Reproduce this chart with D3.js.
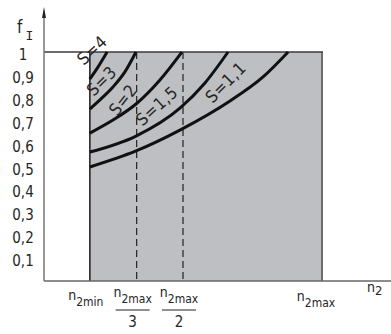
<!DOCTYPE html>
<html>
<head>
<meta charset="utf-8" />
<script src="https://d3js.org/d3.v7.min.js"></script>
<style>
  body { margin: 0; background: #fff; }
  text {
    font-family: "DejaVu Sans Condensed", "Liberation Sans Narrow", "DejaVu Sans", sans-serif;
    fill: #262626;
  }
  .curve { fill: none; stroke: #111; stroke-width: 3px; }
  .dash { stroke: #222; stroke-width: 1.2px; stroke-dasharray: 7 4; }
</style>
</head>
<body>
<svg id="chart" width="391" height="334"></svg>
<script>
// values (n2 as a share of n2max, f_I)
var yTicks = [0.1, 0.2, 0.3, 0.4, 0.5, 0.6, 0.7, 0.8, 0.9, 1];
var yTickLabels = ["0,1", "0,2", "0,3", "0,4", "0,5", "0,6", "0,7", "0,8", "0,9", "1"];
var n2min = 0.165;
var dashedAt = [1 / 3, 1 / 2];
var sLabels = ["S=4", "S=3", "S=2", "S=1,5", "S=1,1"];
var curveS4 = [[0.165, 0.882], [0.194, 0.934], [0.227, 1.0]];
var curveS3 = [[0.165, 0.751], [0.205, 0.795], [0.248, 0.847], [0.291, 0.913], [0.331, 1.0]];
var curveS2 = [[0.165, 0.646], [0.248, 0.703], [0.331, 0.773], [0.417, 0.878], [0.496, 1.0]];
var curveS15 = [[0.165, 0.563], [0.331, 0.633], [0.489, 0.755], [0.579, 0.865], [0.662, 1.0]];
var curveS11 = [[0.165, 0.498], [0.331, 0.568], [0.489, 0.659], [0.669, 0.786], [0.788, 0.891], [0.878, 1.0]];

// where each S label sits: share of the curve length, gap above the curve, tilt
var labelAlong = [0.81, 0.385, 0.375, 0.475, 0.70];
var labelGap = [14, 12.5, 11.5, 16, 18];
var labelAngle = [-43, -45, -52, -42, -45];

var curves = [curveS4, curveS3, curveS2, curveS15, curveS11];

var svg = d3.select("#chart");
var x = d3.scaleLinear().domain([0, 1]).range([44, 322]);
var y = d3.scaleLinear().domain([0, 1]).range([281, 52]);

// shaded working area
svg.append("rect")
  .attr("x", x(n2min))
  .attr("y", y(1))
  .attr("width", x(1) - x(n2min))
  .attr("height", y(0) - y(1))
  .attr("fill", "#bebfc3");

svg.append("line")
  .attr("x1", x(1)).attr("x2", x(1))
  .attr("y1", y(1)).attr("y2", y(0))
  .attr("stroke", "#6e6e6e").attr("stroke-width", 2);

svg.append("line")
  .attr("x1", x(n2min)).attr("x2", x(n2min))
  .attr("y1", y(1)).attr("y2", y(0))
  .attr("stroke", "#1a1a1a").attr("stroke-width", 1.5);

svg.selectAll(".dash")
  .data(dashedAt)
  .enter().append("line")
  .attr("class", "dash")
  .attr("x1", function(d) { return x(d); })
  .attr("x2", function(d) { return x(d); })
  .attr("y1", y(1))
  .attr("y2", y(0));

// f = 1 line
svg.append("line")
  .attr("x1", x(0)).attr("x2", x(1) + 1)
  .attr("y1", y(1)).attr("y2", y(1))
  .attr("stroke", "#3a3a3a").attr("stroke-width", 1.3);

// axes
svg.append("line")
  .attr("x1", x(0)).attr("x2", 391)
  .attr("y1", y(0)).attr("y2", y(0))
  .attr("stroke", "#666").attr("stroke-width", 1.5);

svg.append("line")
  .attr("x1", x(0)).attr("x2", x(0))
  .attr("y1", 14).attr("y2", y(0))
  .attr("stroke", "#777").attr("stroke-width", 1.5);

svg.append("path")
  .attr("d", "M" + x(0) + ",7 L" + (x(0) - 2) + ",18 L" + (x(0) + 2) + ",18 Z")
  .attr("fill", "#222");

// curves
var line = d3.line()
  .x(function(d) { return x(d[0]); })
  .y(function(d) { return y(d[1]); })
  .curve(d3.curveMonotoneX);

var paths = svg.selectAll(".curve")
  .data(curves)
  .enter().append("path")
  .attr("class", "curve")
  .attr("d", line);

// labels placed beside each curve
paths.each(function(d, i) {
  var p = this;
  var len = p.getTotalLength();
  var a = p.getPointAtLength(len * labelAlong[i] - 2);
  var b = p.getPointAtLength(len * labelAlong[i] + 2);
  var dx = b.x - a.x, dy = b.y - a.y;
  var n = Math.sqrt(dx * dx + dy * dy);
  var nx = dy / n, ny = -dx / n;
  var cx = (a.x + b.x) / 2 + nx * labelGap[i];
  var cy = (a.y + b.y) / 2 + ny * labelGap[i];
  svg.append("text")
    .attr("transform", "translate(" + cx + "," + cy + ") rotate(" + labelAngle[i] + ")")
    .attr("text-anchor", "middle")
    .attr("dominant-baseline", "central")
    .attr("font-size", 17)
    .attr("letter-spacing", 0.5)
    .text(sLabels[i]);
});

// y tick labels
svg.selectAll(".ytick")
  .data(yTicks)
  .enter().append("text")
  .attr("class", "ytick")
  .attr("x", 23)
  .attr("y", function(d) { return y(d) + 8; })
  .attr("text-anchor", "middle")
  .attr("font-size", 15)
  .text(function(d, i) { return yTickLabels[i]; });

// axis title f_I
var fl = svg.append("text").attr("x", 17).attr("y", 33).attr("font-size", 17);
fl.append("tspan").text("f");
fl.append("tspan")
  .attr("dx", 3).attr("dy", 7)
  .attr("font-size", 13)
  .style("font-family", "'DejaVu Sans Mono', monospace")
  .text("I");

// x tick labels
function nLabel(cx, baseline, sub) {
  var t = svg.append("text")
    .attr("x", cx).attr("y", baseline)
    .attr("text-anchor", "middle")
    .attr("font-size", 14);
  t.append("tspan").text("n");
  t.append("tspan").attr("dy", 6).attr("font-size", 12).text(sub);
  return t;
}

nLabel(x(n2min) - 4, 300, "2min");
nLabel(x(1) - 6, 301, "2max");

dashedAt.forEach(function(d) {
  var cx = x(d) - 4;
  nLabel(cx, 297, "2max");
  svg.append("line")
    .attr("x1", cx - 17).attr("x2", cx + 17)
    .attr("y1", 310).attr("y2", 310)
    .attr("stroke", "#222").attr("stroke-width", 1.2);
  svg.append("text")
    .attr("x", cx).attr("y", 327)
    .attr("text-anchor", "middle")
    .attr("font-size", 15)
    .text(Math.round(1 / d));
});

var nt = svg.append("text").attr("x", 367).attr("y", 292).attr("font-size", 14);
nt.append("tspan").text("n");
nt.append("tspan").attr("dy", 3).attr("font-size", 13).text("2");
</script>
</body>
</html>
